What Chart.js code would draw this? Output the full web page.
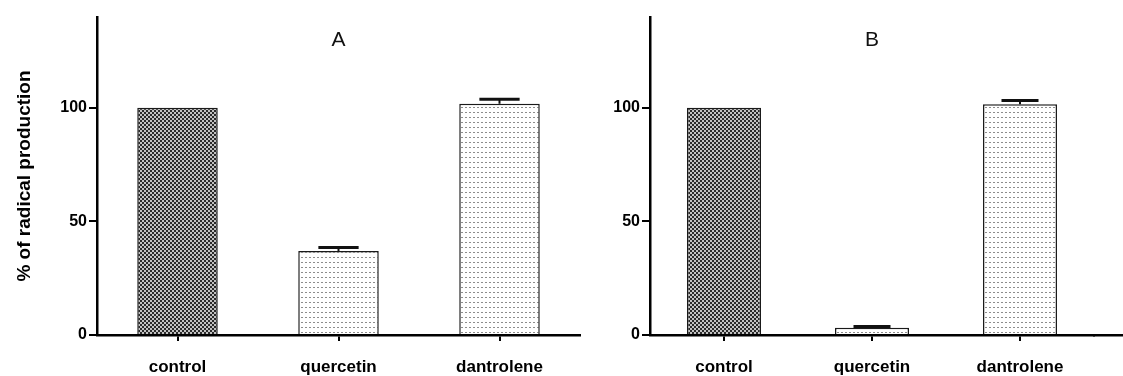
<!DOCTYPE html>
<html>
<head>
<meta charset="utf-8">
<script src="https://cdn.jsdelivr.net/npm/chart.js@4"></script>
<style>
  body { margin: 0; background: #fff; }
  #wrap { position: relative; width: 1123px; height: 376px; overflow: hidden; }
  canvas { position: absolute; top: 0; }
</style>
</head>
<body>
<div id="wrap">
  <canvas id="chartB" width="563" height="376" style="left:560px"></canvas>
  <canvas id="chartA" width="600" height="376" style="left:0"></canvas>
</div>
<script>
const categories = ["control", "quercetin", "dantrolene"];
const valuesA = [100, 37, 101.8];
const errorsA = [0, 1.5, 2.0];
const valuesB = [100, 3.2, 101.6];
const errorsB = [0, 0.5, 1.6];
const yTicks = [0, 50, 100];
const yMax = 140;
const yTitle = "% of radical production";

const FONT = "'Liberation Sans', Arial, sans-serif";

function makePattern(w, h, draw) {
  const c = document.createElement("canvas"); c.width = w; c.height = h;
  draw(c.getContext("2d"));
  return c.getContext("2d").createPattern(c, "repeat");
}
// dark checkered fill for control, light dots for the treatments
const darkFill = makePattern(4, 4, g => {
  g.fillStyle = "#c2c2c2"; g.fillRect(0, 0, 4, 4);
  g.fillStyle = "#2a2a2a"; g.fillRect(0, 0, 2, 2); g.fillRect(2, 2, 2, 2);
});
const dotFill = makePattern(4, 5, g => {
  g.fillStyle = "#fff"; g.fillRect(0, 0, 4, 5);
  g.fillStyle = "#8c8c8c"; g.fillRect(1, 2, 2, 1);
});

const errorBars = {
  id: "errorBars",
  afterDatasetsDraw(chart, args, opts) {
    const ctx = chart.ctx, y = chart.scales.y, vals = chart.data.datasets[0].data;
    chart.getDatasetMeta(0).data.forEach((bar, i) => {
      const err = opts.errors[i]; if (!err) return;
      const top = y.getPixelForValue(vals[i] + err), half = bar.width / 4;
      ctx.save(); ctx.strokeStyle = "#111";
      ctx.lineWidth = 2; ctx.beginPath(); ctx.moveTo(bar.x, bar.y); ctx.lineTo(bar.x, top); ctx.stroke();
      ctx.lineWidth = 3; ctx.beginPath(); ctx.moveTo(bar.x - half, top); ctx.lineTo(bar.x + half, top); ctx.stroke();
      ctx.restore();
    });
  }
};

const panelLabel = {
  id: "panelLabel",
  afterDraw(chart, args, opts) {
    const { ctx, chartArea } = chart;
    ctx.save();
    ctx.font = "21px " + FONT; ctx.fillStyle = "#111";
    ctx.textAlign = "center"; ctx.textBaseline = "middle";
    ctx.fillText(opts.text, (chartArea.left + chartArea.right) / 2, 40);
    if (opts.extendAxis) {
      const yLine = Math.round(chartArea.bottom - 1.25) + 1.25;
      ctx.strokeStyle = "#000"; ctx.lineWidth = 2.5; ctx.beginPath();
      ctx.moveTo(chartArea.right - 1, yLine); ctx.lineTo(chart.width, yLine); ctx.stroke();
    }
    ctx.restore();
  }
};

function buildChart(id, values, errors, label, yWidth, padRight, showTitle, extendAxis) {
  return new Chart(document.getElementById(id).getContext("2d"), {
    type: "bar",
    data: {
      labels: categories,
      datasets: [{
        data: values,
        backgroundColor: [darkFill, dotFill, dotFill],
        borderColor: "#1a1a1a", borderWidth: 1.5,
        barPercentage: 0.5, categoryPercentage: 1
      }]
    },
    plugins: [errorBars, panelLabel],
    options: {
      responsive: false, animation: false,
      layout: { padding: { top: 17, right: padRight, left: 0, bottom: 0 } },
      plugins: {
        legend: { display: false }, tooltip: { enabled: false },
        errorBars: { errors },
        panelLabel: { text: label, extendAxis }
      },
      scales: {
        x: {
          offset: true,
          afterFit: s => { s.height = 41; },
          border: { color: "#000", width: 2.5 },
          grid: { drawOnChartArea: false, offset: false, color: "#000", lineWidth: 2, tickLength: 6 },
          ticks: { color: "#000", padding: 16, font: { family: FONT, size: 17, weight: "bold" } }
        },
        y: {
          min: 0, max: yMax,
          afterFit: s => { s.width = yWidth; },
          afterBuildTicks: s => { s.ticks = yTicks.map(v => ({ value: v })); },
          border: { color: "#000", width: 2.5 },
          grid: { drawOnChartArea: false, color: "#000", lineWidth: 2, tickLength: 8 },
          ticks: { color: "#000", padding: 2, font: { family: FONT, size: 16, weight: "bold" } },
          title: {
            display: showTitle, text: yTitle, color: "#000",
            padding: { top: 13, bottom: 0 },
            font: { family: FONT, size: 19, weight: "bold" }
          }
        }
      }
    }
  });
}

buildChart("chartA", valuesA, errorsA, "A", 97, 20, true, false);
buildChart("chartB", valuesB, errorsB, "B", 90, 29, false, true);
</script>
</body>
</html>
